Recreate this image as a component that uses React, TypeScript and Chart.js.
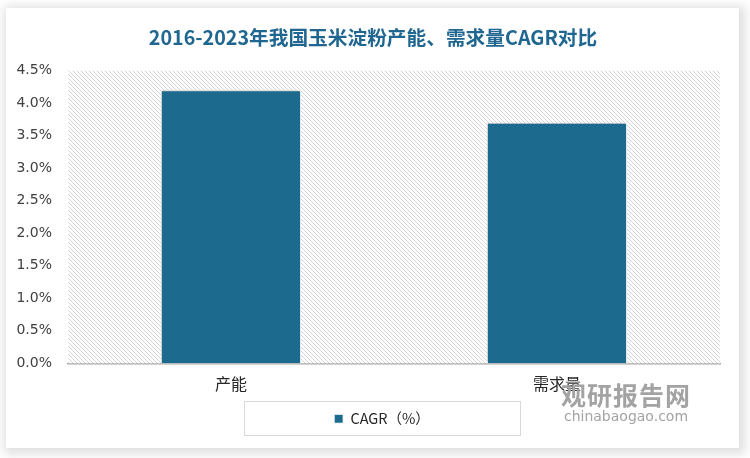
import React, { useEffect, useRef } from "react";
import { Chart, registerables } from "chart.js";

Chart.register(...registerables);

const titleText = "2016-2023年我国玉米淀粉产能、需求量CAGR对比";
const categories = ["产能", "需求量"];
const seriesName = "CAGR（%）";
const cagrValues = [4.2, 3.7];
const yMax = 4.5;
const yStep = 0.5;

const BAR_COLOR = "#1c6a8e";

function makeHatch(ctx: CanvasRenderingContext2D) {
  const c = document.createElement("canvas");
  c.width = 4;
  c.height = 4;
  const p = c.getContext("2d")!;
  p.fillStyle = "#ffffff";
  p.fillRect(0, 0, 4, 4);
  p.strokeStyle = "#d4d4d4";
  p.lineWidth = 1;
  p.beginPath();
  p.moveTo(-1, -1);
  p.lineTo(5, 5);
  p.moveTo(-1, 3);
  p.lineTo(1, 5);
  p.moveTo(3, -1);
  p.lineTo(5, 1);
  p.stroke();
  return ctx.createPattern(c, "repeat");
}

export default function App() {
  const ref = useRef<HTMLCanvasElement | null>(null);

  useEffect(() => {
    if (!ref.current) return;
    const hatchPlugin = {
      id: "hatch",
      beforeDatasetsDraw(chart: any) {
        const { ctx, chartArea } = chart;
        const pat = makeHatch(ctx);
        ctx.save();
        ctx.fillStyle = pat;
        ctx.fillRect(chartArea.left, chartArea.top, chartArea.right - chartArea.left, chartArea.bottom - chartArea.top);
        ctx.restore();
      },
      beforeDatasetDraw(chart: any) {
        const ctx = chart.ctx;
        ctx.save();
        ctx.shadowColor = "rgba(0,0,0,0.28)";
        ctx.shadowBlur = 3;
        ctx.shadowOffsetX = -1;
        ctx.shadowOffsetY = -1;
      },
      afterDatasetDraw(chart: any) {
        chart.ctx.restore();
      },
    };
    const legendPlugin = {
      id: "legendShift",
      afterLayout(chart: any) {
        const lg = chart.legend;
        if (lg) {
          lg.left += 14.5;
          lg.right += 14.5;
        }
        const tb = chart.titleBlock;
        if (tb) {
          tb.left += 5.5;
          tb.right += 5.5;
        }
      },
      afterDraw(chart: any) {
        const lg = chart.legend;
        if (!lg || !lg.legendHitBoxes || !lg.legendHitBoxes.length) return;
        const hb = lg.legendHitBoxes[0];
        const cx = hb.left + hb.width / 2;
        const cy = hb.top + hb.height / 2;
        const ctx = chart.ctx;
        ctx.save();
        ctx.strokeStyle = "#d9d9d9";
        ctx.lineWidth = 1;
        ctx.strokeRect(Math.round(cx - 138) + 0.5, Math.round(cy - 18) + 0.5, 276, 34);
        ctx.restore();
      },
    };
    const chart = new Chart(ref.current, {
      type: "bar",
      data: {
        labels: categories,
        datasets: [
          {
            label: seriesName,
            data: cagrValues,
            backgroundColor: BAR_COLOR,
            borderColor: "#ffffff",
            borderWidth: 1,
            categoryPercentage: 1,
            barPercentage: 0.43,
          },
        ],
      },
      options: {
        animation: false,
        responsive: false,
        maintainAspectRatio: false,
        layout: { padding: { left: 9, right: 19, top: 0, bottom: 12 } },
        plugins: {
          title: {
            display: true,
            text: titleText,
            color: "#1f6690",
            font: { family: "'Noto Sans CJK SC', sans-serif", size: 19.7, weight: "bold" },
            padding: { top: 18, bottom: 21 },
          },
          legend: {
            position: "bottom",
            labels: {
              boxWidth: 9,
              boxHeight: 9,
              padding: 7,
              color: "#262626",
              font: { family: "'Noto Sans CJK SC', sans-serif", size: 14.5 },
            },
          },
          tooltip: { enabled: false },
        },
        scales: {
          x: {
            grid: { display: false, drawTicks: false },
            border: { display: true, color: "#a6a6a6", width: 1.5 },
            ticks: {
              padding: 11,
              color: "#262626",
              font: { family: "'Noto Sans CJK SC', sans-serif", size: 16 },
            },
          },
          y: {
            min: 0,
            max: yMax,
            grid: { display: false, drawTicks: false },
            border: { display: false },
            afterFit: (scale: any) => {
              scale.width = 53;
            },
            ticks: {
              stepSize: yStep,
              padding: 16,
              color: "#404040",
              font: { family: "'DejaVu Sans', sans-serif", size: 14 },
              callback: (v: any) => Number(v).toFixed(1) + "%",
            },
          },
        },
      },
      plugins: [hatchPlugin, legendPlugin],
    });
    return () => chart.destroy();
  }, []);

  return (
    <div style={{ position: "fixed", left: 0, top: 0, width: 750, height: 458, background: "#ffffff", overflow: "hidden" }}>
      <div
        style={{
          position: "absolute",
          left: 6,
          top: 8,
          width: 733,
          height: 440,
          background: "#ffffff",
          boxShadow: "2px 2px 10px 4px rgba(0,0,0,0.13)",
        }}
      >
        <canvas ref={ref} width={733} height={440} style={{ display: "block", width: 733, height: 440 }} />
        <div
          style={{
            position: "absolute",
            left: 550,
            top: 372,
            width: 140,
            textAlign: "center",
            color: "#a3a3a3",
            fontFamily: "'Noto Sans CJK SC', sans-serif",
            pointerEvents: "none",
          }}
        >
          <div style={{ fontSize: 25, fontWeight: "bold", lineHeight: "28px", letterSpacing: 1 }}>观研报告网</div>
          <div style={{ fontSize: 14, lineHeight: "16px", fontFamily: "'DejaVu Sans', sans-serif" }}>chinabaogao.com</div>
        </div>
      </div>
    </div>
  );
}
